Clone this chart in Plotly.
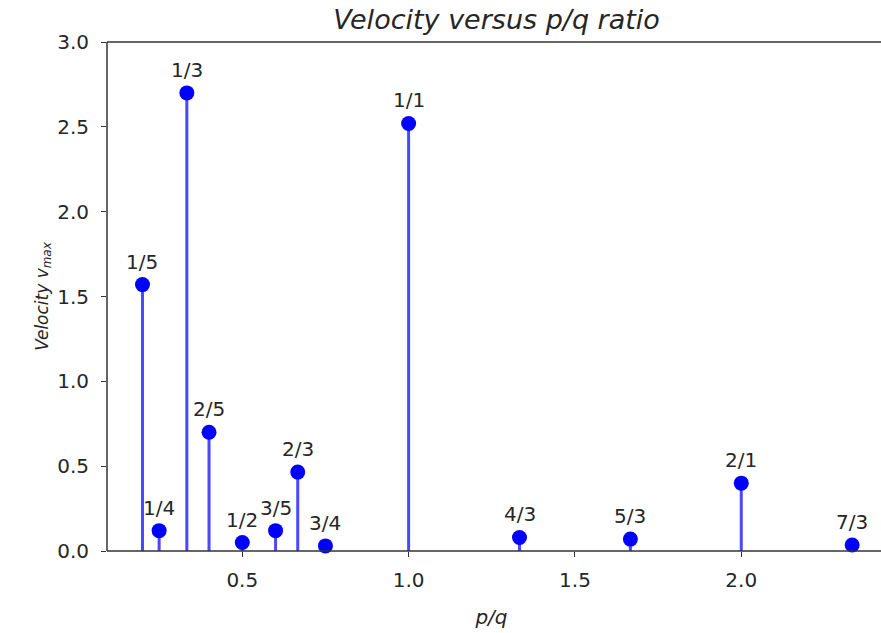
import plotly.graph_objects as go

labels = ["1/5", "1/4", "1/3", "2/5", "1/2", "3/5", "2/3", "3/4", "1/1", "4/3", "5/3", "2/1", "7/3"]
ratios = [1/5, 1/4, 1/3, 2/5, 1/2, 3/5, 2/3, 3/4, 1.0, 4/3, 5/3, 2.0, 7/3]
velocity = [1.57, 0.12, 2.70, 0.70, 0.05, 0.12, 0.465, 0.03, 2.52, 0.08, 0.07, 0.40, 0.035]
y_ticks = [0.0, 0.5, 1.0, 1.5, 2.0, 2.5, 3.0]
x_ticks = [0.5, 1.0, 1.5, 2.0]

stem_x, stem_y = [], []
for xv, yv in zip(ratios, velocity):
    stem_x += [xv, xv, None]
    stem_y += [0, yv, None]

font = dict(family="DejaVu Sans", size=20, color="#262626")
label_font = dict(family="DejaVu Sans", size=17, color="#262626")

fig = go.Figure()
fig.add_trace(go.Scatter(x=stem_x, y=stem_y, mode="lines",
                         line=dict(color="rgba(40,40,255,0.85)", width=3),
                         hoverinfo="skip", showlegend=False))
fig.add_trace(go.Scatter(x=ratios, y=velocity, mode="markers",
                         marker=dict(color="#0000ff", size=15),
                         cliponaxis=False, showlegend=False))

for xv, yv, lab in zip(ratios, velocity, labels):
    fig.add_annotation(x=xv, y=yv, text=lab, showarrow=False, yshift=23,
                       font=font)

# spines drawn as shapes: left, bottom, top (no right spine, as in the reference)
ext = 1 + 6 / 769
fig.add_shape(type="line", xref="paper", yref="paper", x0=0, x1=ext, y0=1, y1=1,
              line=dict(color="#333333", width=1.5), layer="above")
fig.add_shape(type="line", xref="paper", yref="paper", x0=0, x1=ext, y0=0, y1=0,
              line=dict(color="#333333", width=1.5), layer="above")
fig.add_shape(type="line", xref="paper", yref="paper", x0=0, x1=0, y0=0, y1=1,
              line=dict(color="#333333", width=1.5), layer="above")

fig.update_layout(
    width=881, height=633,
    margin=dict(l=107, r=5, t=42, b=82),
    plot_bgcolor="white", paper_bgcolor="white",
    title=dict(text="<i>Velocity versus p/q ratio</i>", x=496.5/881, xanchor="center",
               y=1 - 20/633, yanchor="middle",
               font=dict(family="DejaVu Sans", size=27, color="#262626")),
    showlegend=False,
)
fig.update_xaxes(range=[0.0933, 2.405], tickvals=x_ticks, ticktext=[f"{v:.1f}" for v in x_ticks],
                 showline=False, mirror=False,
                 ticks="outside", ticklen=5, tickcolor="#333333", ticklabelstandoff=6,
                 showgrid=False, zeroline=False, tickfont=font,
                 title=dict(text="<i>p/q</i>", font=font, standoff=18))
fig.update_yaxes(range=[0, 3.0], tickvals=y_ticks, ticktext=[f"{v:.1f}" for v in y_ticks],
                 showline=False, mirror=False,
                 ticks="outside", ticklen=5, tickcolor="#333333", ticklabelstandoff=8,
                 showgrid=False, zeroline=False, tickfont=font,
                 title=dict(text="<i>Velocity v<sub>max</sub></i>", font=label_font, standoff=4))

fig.write_html("out.html")
